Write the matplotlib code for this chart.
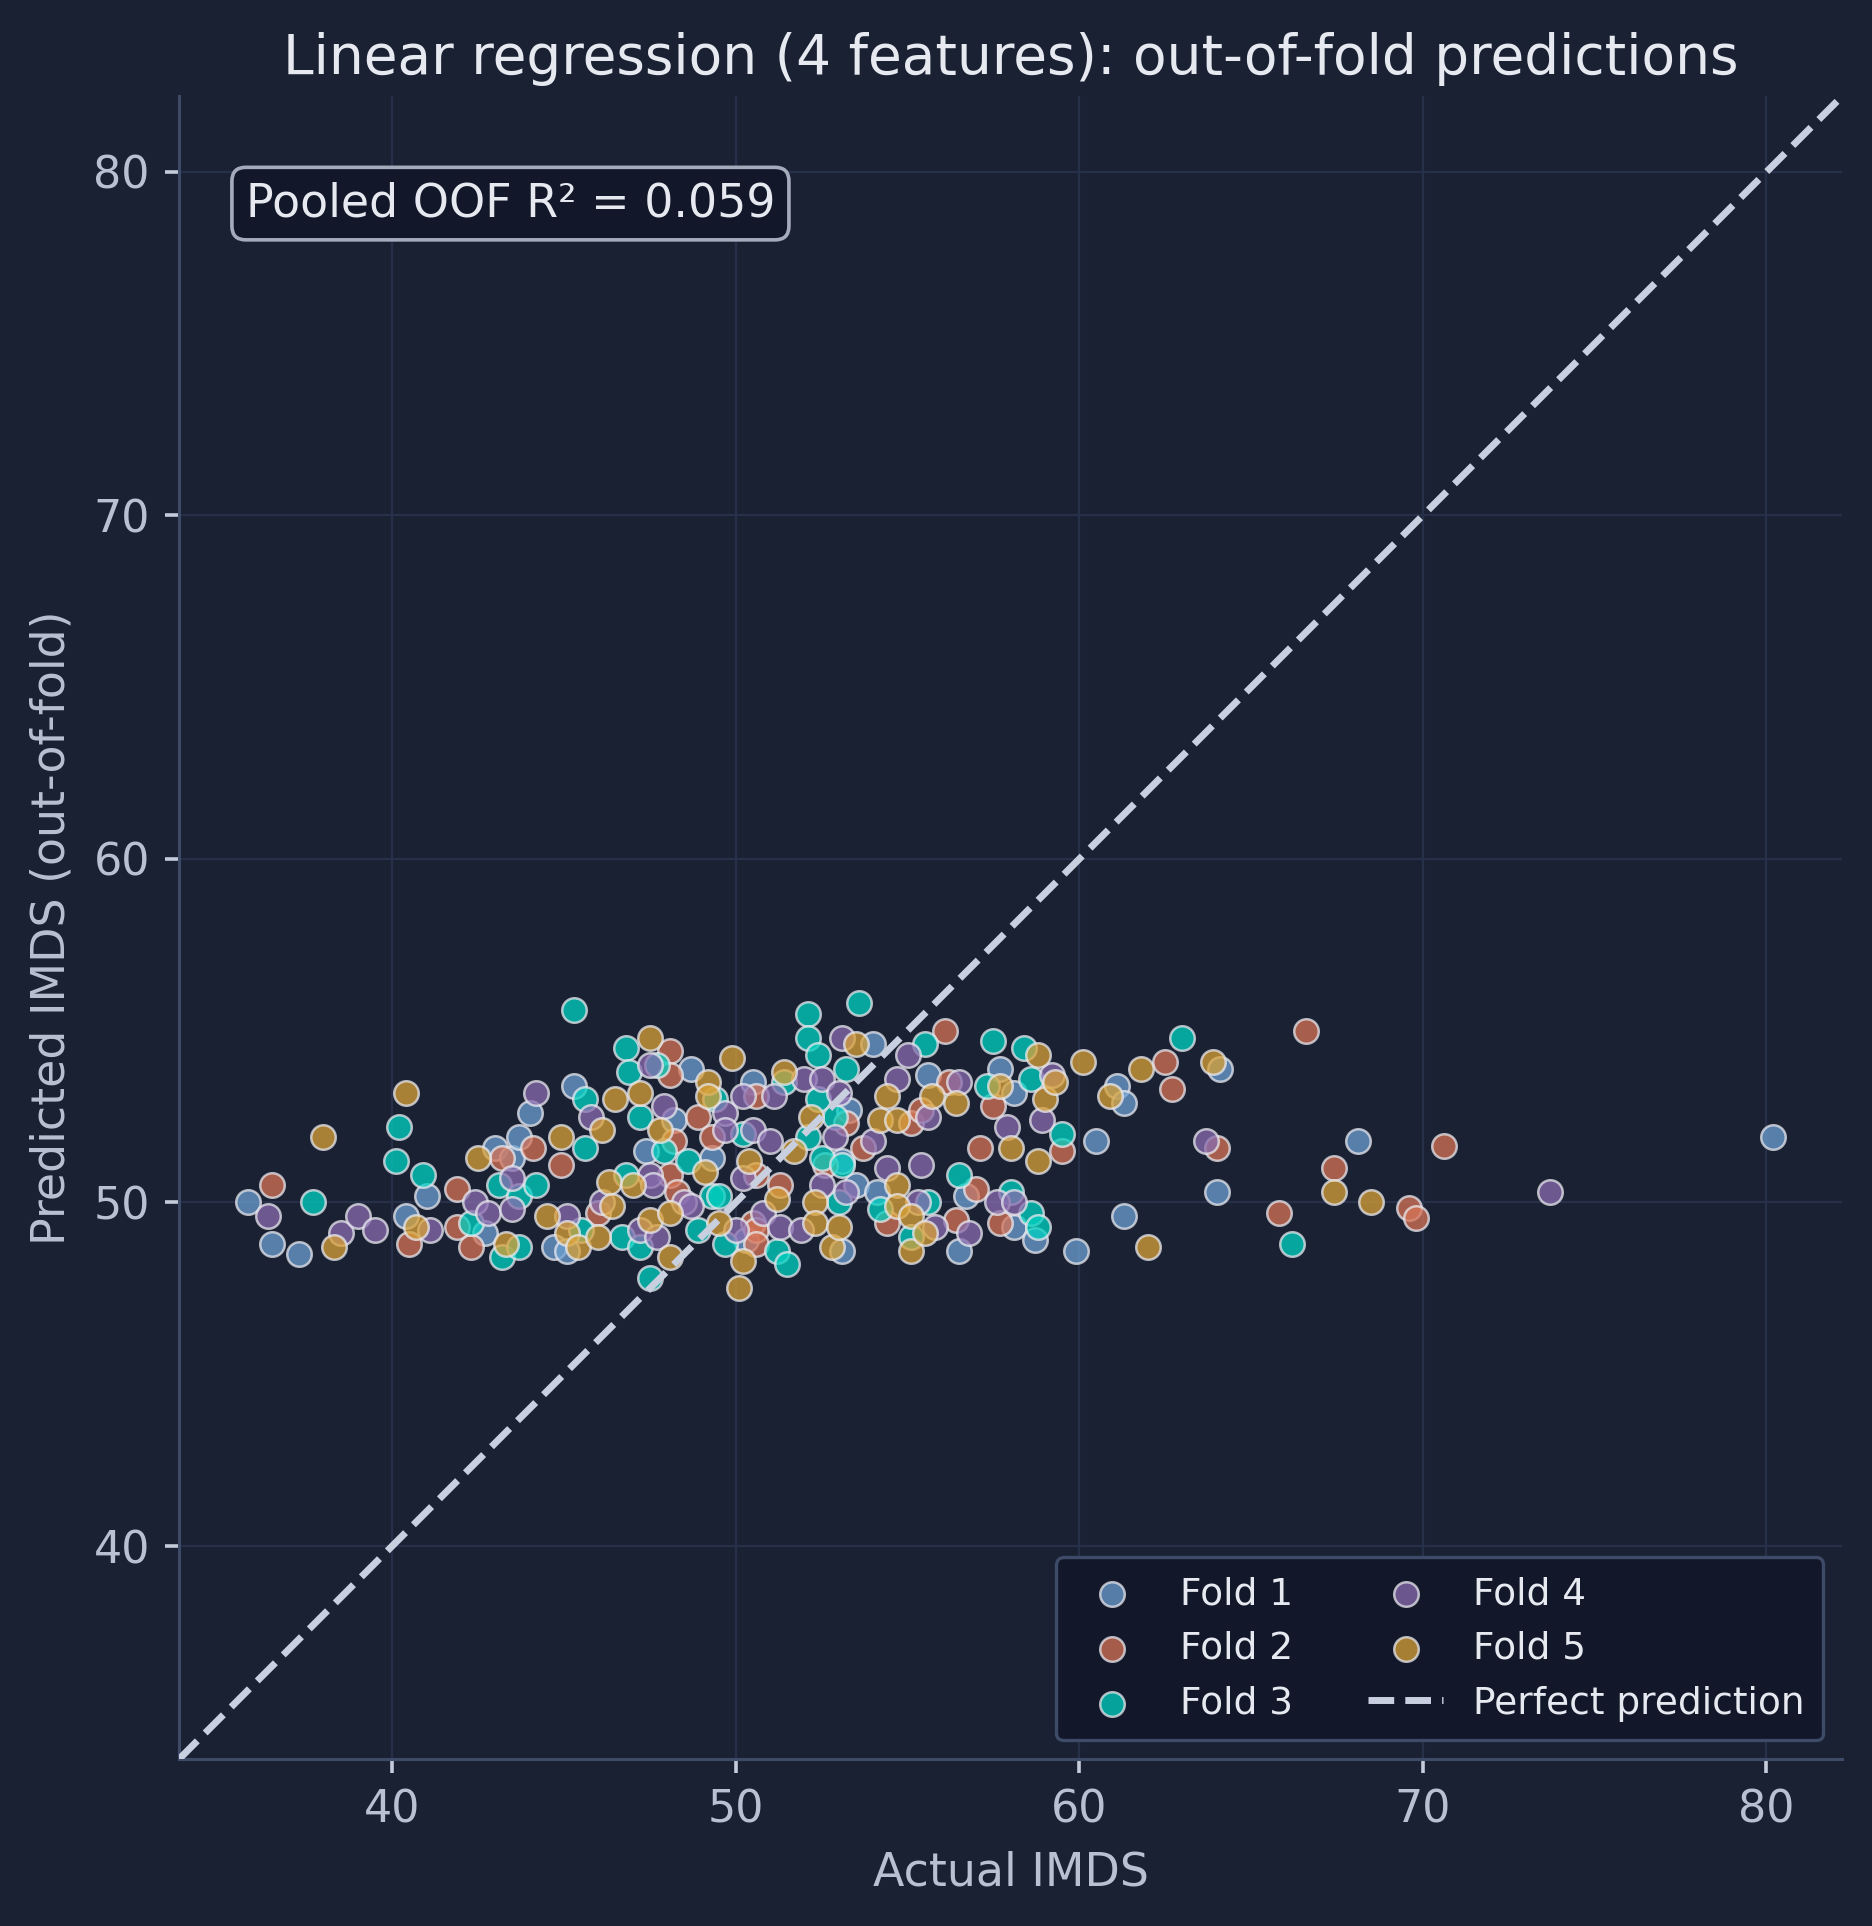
import numpy as np
import matplotlib
matplotlib.use("Agg")
import matplotlib.pyplot as plt

# out-of-fold predictions (actual, predicted) per fold
x1 = [35.8, 36.5, 37.3, 40.4, 41.0, 43.0, 43.5, 43.7, 44.0, 42.7, 44.7, 45.1, 45.3, 47.4, 48.2,
      48.7, 49.3, 50.3, 50.5, 53.1, 53.3, 53.5, 53.1, 54.0, 54.1, 55.6, 56.5, 56.7, 57.7, 58.1,
      58.1, 58.7, 59.9, 60.5, 61.1, 61.3, 61.3, 64.0, 64.1, 68.1, 80.2]
y1 = [50.0, 48.8, 48.5, 49.6, 50.2, 51.6, 51.3, 51.9, 52.6, 49.1, 48.7, 48.6, 53.4, 51.5, 52.4,
      53.9, 51.3, 48.9, 53.5, 51.2, 52.7, 50.5, 48.6, 54.6, 50.3, 53.7, 48.6, 50.2, 53.9, 53.2,
      49.3, 48.9, 48.6, 51.8, 53.4, 52.9, 49.6, 50.3, 53.9, 51.8, 51.9]

x2 = [36.5, 40.5, 41.9, 41.9, 42.3, 43.2, 44.1, 44.9, 46.0, 48.1, 48.1, 48.1, 48.2, 48.9, 49.3,
      48.3, 50.5, 50.6, 50.6, 51.3, 50.6, 50.6, 52.6, 53.2, 53.7, 54.4, 55.1, 55.4, 56.2, 56.1,
      56.4, 57.0, 57.1, 57.5, 57.7, 59.5, 62.5, 62.7, 64.0, 65.8, 66.6, 67.4, 69.6, 69.8, 70.6]
y2 = [50.5, 48.8, 50.4, 49.3, 48.7, 51.3, 51.6, 51.1, 49.7, 54.4, 53.7, 50.8, 51.8, 52.5, 51.9,
      50.3, 49.4, 53.1, 50.8, 50.5, 49.2, 48.8, 51.1, 52.3, 51.6, 49.4, 52.3, 52.7, 53.5, 55.0,
      49.5, 50.4, 51.6, 52.8, 49.4, 51.5, 54.1, 53.3, 51.6, 49.7, 55.0, 51.0, 49.85, 49.55, 51.65]

x3 = [37.7, 40.1, 40.2, 40.9, 42.3, 43.1, 43.2, 43.7, 43.7, 44.2, 45.3, 45.5, 45.6, 45.6, 46.8,
      46.9, 47.7, 46.8, 46.7, 47.2, 47.5, 47.2, 47.9, 48.6, 48.9, 49.3, 49.5, 49.7, 50.2, 49.4,
      51.2, 51.4, 51.5, 52.1, 52.1, 52.4, 52.1, 52.4, 52.5, 52.9, 53.0, 53.1, 53.2, 53.6, 54.2,
      55.1, 55.5, 55.6, 56.5, 57.3, 57.5, 58.0, 58.4, 58.6, 58.6, 58.8, 59.5, 63.0, 66.2]
y3 = [50.0, 51.2, 52.2, 50.8, 49.4, 50.5, 48.4, 48.7, 50.2, 50.5, 55.6, 49.2, 51.6, 53.0, 54.5,
      53.8, 54.0, 50.8, 49.0, 48.7, 47.8, 52.5, 51.5, 51.2, 49.2, 50.2, 50.2, 48.8, 52.0, 53.0,
      48.6, 53.5, 48.2, 55.5, 54.8, 54.3, 51.9, 53.0, 51.3, 52.5, 50.0, 51.1, 53.9, 55.8, 49.8,
      49.0, 54.6, 50.0, 50.8, 53.4, 54.7, 50.3, 54.5, 53.6, 49.7, 49.3, 52.0, 54.8, 48.8]

x4 = [36.4, 38.5, 39.0, 39.5, 41.1, 42.4, 42.8, 43.5, 43.5, 44.2, 45.1, 45.8, 46.1, 47.5, 47.5,
      47.6, 47.2, 47.7, 47.9, 48.5, 48.7, 49.7, 49.7, 50.2, 50.2, 50.0, 50.5, 50.8, 51.0, 51.1,
      51.3, 51.9, 52.0, 52.5, 52.5, 52.9, 53.0, 53.1, 53.2, 54.0, 54.4, 54.7, 55.0, 55.3, 55.4,
      55.6, 55.8, 56.5, 56.8, 57.6, 57.9, 58.1, 58.9, 59.2, 63.7, 73.7]
y4 = [49.6, 49.1, 49.6, 49.2, 49.2, 50.0, 49.7, 50.7, 49.8, 53.2, 49.6, 52.5, 50.0, 54.0, 50.8,
      50.5, 49.2, 49.0, 52.8, 50.0, 49.9, 52.6, 52.1, 53.1, 50.7, 49.2, 52.1, 49.7, 51.8, 53.1,
      49.3, 49.2, 53.6, 53.6, 50.5, 51.9, 53.2, 54.8, 50.3, 51.8, 51.0, 53.6, 54.3, 50.0, 51.1,
      52.5, 49.3, 53.5, 49.1, 50.0, 52.2, 50.0, 52.4, 53.7, 51.8, 50.3]

x5 = [38.0, 38.3, 40.4, 40.7, 42.5, 43.3, 44.5, 44.9, 45.1, 45.4, 46.0, 46.1, 46.3, 46.4, 46.5,
      47.0, 47.2, 47.5, 47.5, 47.8, 48.1, 48.1, 49.1, 49.2, 49.2, 49.5, 49.9, 50.2, 50.1, 50.4,
      51.2, 51.4, 51.7, 52.2, 52.3, 52.3, 52.8, 53.0, 53.5, 54.2, 54.4, 54.7, 54.7, 54.7, 55.1,
      55.1, 55.5, 55.7, 56.4, 57.7, 58.0, 58.8, 58.8, 59.0, 59.3, 60.1, 60.9, 61.8, 62.0, 63.9,
      67.4, 68.5]
y5 = [51.9, 48.7, 53.2, 49.3, 51.3, 48.8, 49.6, 51.9, 49.1, 48.7, 49.0, 52.1, 50.6, 49.9, 53.0,
      50.5, 53.2, 54.8, 49.5, 52.1, 49.7, 48.4, 50.9, 53.5, 53.1, 49.4, 54.2, 48.3, 47.5, 51.2,
      50.1, 53.8, 51.5, 52.5, 50.0, 49.4, 48.7, 49.3, 54.6, 52.4, 53.1, 52.4, 50.5, 49.9, 49.6,
      48.6, 49.1, 53.1, 52.9, 53.4, 51.6, 54.3, 51.2, 53.0, 53.5, 54.1, 53.1, 53.9, 48.7, 54.1,
      50.3, 50.0]

folds = ["Fold 1", "Fold 2", "Fold 3", "Fold 4", "Fold 5"]
fold_x = [x1, x2, x3, x4, x5]
fold_y = [y1, y2, y3, y4, y5]
r2 = 0.059

bg = "#1a2133"
colors = ["#6ca0d2", "#d77457", "#00d2c2", "#8a6db0", "#daa238"]

fig = plt.figure(figsize=(9.36, 9.63), dpi=200, facecolor=bg)
ax = fig.add_axes([0.0957, 0.0867, 0.8883, 0.8633])
ax.set_facecolor(bg)

for name, xs, ys, c in zip(folds, fold_x, fold_y, colors):
    ax.scatter(xs, ys, s=78, color=c, alpha=0.75, edgecolors="#e8e8ee",
               linewidths=0.9, label=name, zorder=3)

allv = np.concatenate([np.concatenate(fold_x), np.concatenate(fold_y)])
lo, hi = allv.min() - 2, allv.max() + 2
ax.plot([lo, hi], [lo, hi], "--", color="#c8cfdf", lw=2.5, label="Perfect prediction", zorder=4)
ax.set_xlim(lo, hi)
ax.set_ylim(lo, hi)
ax.set_xticks([40, 50, 60, 70, 80])
ax.set_yticks([40, 50, 60, 70, 80])

ax.grid(True, color="#263049", lw=0.8, zorder=0)
ax.set_axisbelow(True)
for s in ["top", "right"]:
    ax.spines[s].set_visible(False)
for s in ["left", "bottom"]:
    ax.spines[s].set_color("#3d4a68")
    ax.spines[s].set_linewidth(1.1)
ax.tick_params(colors="#c4ccda", labelcolor="#b8c0d2", labelsize=16,
               length=5, width=1.3, pad=5.5)

ax.set_title("Linear regression (4 features): out-of-fold predictions",
             color="#e6e9f0", fontsize=19.8, pad=8)
ax.set_xlabel("Actual IMDS", color="#b8c0d2", fontsize=16.5, labelpad=7)
ax.set_ylabel("Predicted IMDS (out-of-fold)", color="#b8c0d2", fontsize=16.5, labelpad=7)

ax.text(0.04, 0.949, f"Pooled OOF R\u00b2 = {r2:.3f}", transform=ax.transAxes,
        ha="left", va="top", fontsize=16.5, color="#e6e9f0",
        bbox=dict(boxstyle="round,pad=0.3", fc="#121829", ec="#a4acbc", lw=1.3))

leg = ax.legend(loc="lower right", ncol=2, fontsize=13.5, facecolor="#121829",
                edgecolor="#3d4a68", labelcolor="#e6e9f0", framealpha=1.0,
                borderpad=0.5, columnspacing=2.0)
leg.get_frame().set_linewidth(1.2)

fig.savefig("out.png", dpi=200, facecolor=bg)
